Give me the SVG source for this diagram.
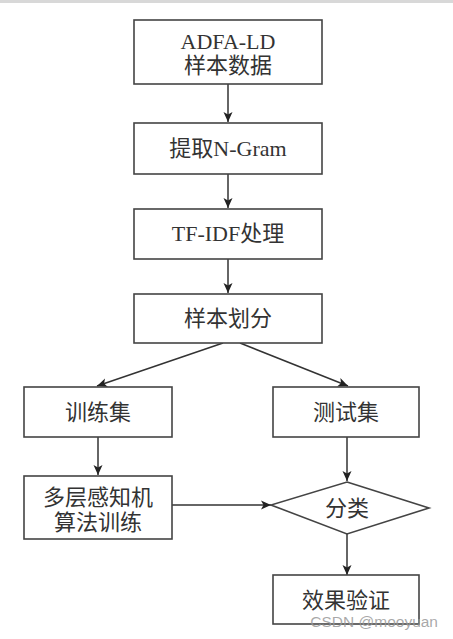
<svg xmlns="http://www.w3.org/2000/svg" width="453" height="639" viewBox="0 0 453 639">
<style>
.box{fill:#fff;stroke:#444;stroke-width:1.6}
.t{font-family:"Liberation Serif","Noto Sans CJK SC",serif;font-size:22px;fill:#333;text-anchor:middle;dominant-baseline:central}
.c{stroke:#333;stroke-width:1.5;fill:none}
</style>
<defs>
<marker id="ah" viewBox="0 0 10 10" refX="10" refY="5" markerWidth="10" markerHeight="10" markerUnits="userSpaceOnUse" orient="auto">
<path d="M0,0.5 L10,5 L0,9.5 L2.5,5 Z" fill="#222"/>
</marker>
</defs>
<rect x="0" y="0" width="453" height="3" fill="#d8d8d8"/>
<g id="connectors">
<line class="c" x1="228" y1="84" x2="228" y2="122" marker-end="url(#ah)"/>
<line class="c" x1="228" y1="174" x2="228" y2="208" marker-end="url(#ah)"/>
<line class="c" x1="228" y1="259" x2="228" y2="293" marker-end="url(#ah)"/>
<line class="c" x1="223" y1="343" x2="97" y2="386" marker-end="url(#ah)"/>
<line class="c" x1="240" y1="343" x2="348" y2="386" marker-end="url(#ah)"/>
<line class="c" x1="98" y1="437" x2="98" y2="475" marker-end="url(#ah)"/>
<line class="c" x1="347" y1="437" x2="347" y2="481" marker-end="url(#ah)"/>
<line class="c" x1="172" y1="505" x2="271" y2="505" marker-end="url(#ah)"/>
<line class="c" x1="347" y1="534" x2="347" y2="575" marker-end="url(#ah)"/>
</g>
<g id="n1"><rect class="box" x="134" y="20" width="188" height="64"/><text class="t" x="228" y="41">ADFA-LD</text><text class="t" x="228" y="65">样本数据</text></g>
<g id="n2"><rect class="box" x="134" y="123" width="188" height="51"/><text class="t" x="228" y="148">提取N-Gram</text></g>
<g id="n3"><rect class="box" x="134" y="209" width="188" height="50"/><text class="t" x="228" y="233">TF-IDF处理</text></g>
<g id="n4"><rect class="box" x="134" y="294" width="188" height="49"/><text class="t" x="228" y="318">样本划分</text></g>
<g id="n5"><rect class="box" x="24" y="387" width="148" height="50"/><text class="t" x="98" y="412">训练集</text></g>
<g id="n6"><rect class="box" x="273" y="387" width="146" height="50"/><text class="t" x="346" y="412">测试集</text></g>
<g id="n7"><rect class="box" x="24" y="476" width="148" height="63"/><text class="t" x="98" y="497">多层感知机</text><text class="t" x="98" y="522">算法训练</text></g>
<g id="n8"><polygon class="box" points="347,482 429,508 347,534 271,505"/><text class="t" x="347" y="508">分类</text></g>
<g id="n9"><rect class="box" x="273" y="575" width="146" height="49"/><text class="t" x="346" y="600">效果验证</text></g>
<text x="438" y="627" font-family="Liberation Sans,Arial,sans-serif" font-size="15.5" fill="#999" fill-opacity="0.85" text-anchor="end">CSDN @mooyuan</text>
</svg>
